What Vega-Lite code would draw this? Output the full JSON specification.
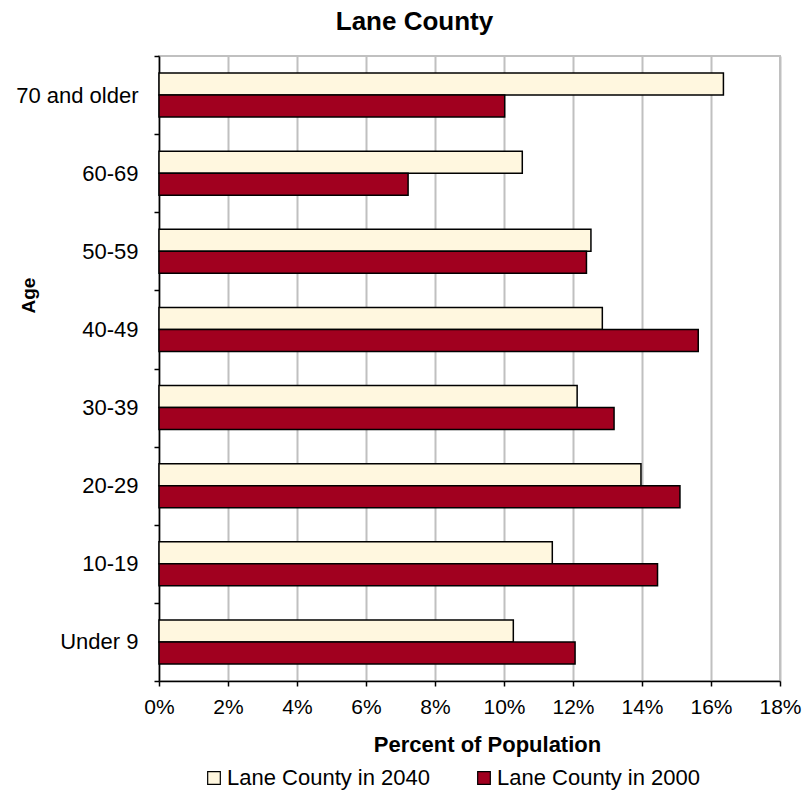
{
  "$schema": "https://vega.github.io/schema/vega-lite/v6.json",
  "width": 621,
  "height": 625,
  "autosize": {"type": "none"},
  "padding": {"left": 159, "top": 56, "right": 23, "bottom": 114},
  "background": "white",
  "config": {
    "font": "Liberation Sans",
    "view": {"stroke": "#c0c0c0", "strokeWidth": 2},
    "axis": {"labelFont": "Liberation Sans", "titleFont": "Liberation Sans"},
    "legend": {"labelFont": "Liberation Sans"}
  },
  "title": {
    "text": "Lane County",
    "fontSize": 26,
    "fontWeight": "bold",
    "font": "Liberation Sans",
    "color": "black",
    "anchor": "middle",
    "offset": 10,
    "dx": -55
  },
  "data": {
    "values": [
      {"age": "70 and older", "series": "Lane County in 2040", "pct": 16.36},
      {"age": "70 and older", "series": "Lane County in 2000", "pct": 10.02},
      {"age": "60-69", "series": "Lane County in 2040", "pct": 10.53},
      {"age": "60-69", "series": "Lane County in 2000", "pct": 7.22},
      {"age": "50-59", "series": "Lane County in 2040", "pct": 12.52},
      {"age": "50-59", "series": "Lane County in 2000", "pct": 12.39},
      {"age": "40-49", "series": "Lane County in 2040", "pct": 12.85},
      {"age": "40-49", "series": "Lane County in 2000", "pct": 15.63},
      {"age": "30-39", "series": "Lane County in 2040", "pct": 12.12},
      {"age": "30-39", "series": "Lane County in 2000", "pct": 13.19},
      {"age": "20-29", "series": "Lane County in 2040", "pct": 13.97},
      {"age": "20-29", "series": "Lane County in 2000", "pct": 15.10},
      {"age": "10-19", "series": "Lane County in 2040", "pct": 11.40},
      {"age": "10-19", "series": "Lane County in 2000", "pct": 14.45},
      {"age": "Under 9", "series": "Lane County in 2040", "pct": 10.27},
      {"age": "Under 9", "series": "Lane County in 2000", "pct": 12.06}
    ]
  },
  "mark": {"type": "bar", "stroke": "black", "strokeWidth": 1.5},
  "encoding": {
    "y": {
      "field": "age",
      "type": "nominal",
      "sort": ["70 and older", "60-69", "50-59", "40-49", "30-39", "20-29", "10-19", "Under 9"],
      "scale": {"paddingInner": 0, "paddingOuter": 0},
      "axis": {
        "title": "Age",
        "titleFontSize": 19,
        "titleFontWeight": "bold",
        "titleColor": "black",
        "titleX": -131,
        "titleY": 239,
        "titleAngle": 270,
        "titleBaseline": "middle",
        "titleAlign": "center",
        "labelFontSize": 22,
        "labelColor": "black",
        "labelPadding": 16,
        "tickBand": "extent",
        "tickColor": "black",
        "tickSize": 5,
        "tickWidth": 1.5,
        "domainColor": "black",
        "domainWidth": 1.5,
        "grid": false
      }
    },
    "yOffset": {
      "field": "series",
      "type": "nominal",
      "sort": ["Lane County in 2040", "Lane County in 2000"],
      "scale": {"paddingInner": 0, "paddingOuter": 0.775}
    },
    "x": {
      "field": "pct",
      "type": "quantitative",
      "scale": {"domain": [0, 18], "nice": false},
      "axis": {
        "values": [0, 2, 4, 6, 8, 10, 12, 14, 16, 18],
        "labelExpr": "datum.value + '%'",
        "title": "Percent of Population",
        "titleFontSize": 22,
        "titleFontWeight": "bold",
        "titleColor": "black",
        "titleX": 328,
        "titleY": 70,
        "titleBaseline": "alphabetic",
        "labelFontSize": 21,
        "labelColor": "black",
        "labelPadding": 10,
        "labelFlush": false,
        "tickColor": "black",
        "tickSize": 5,
        "tickWidth": 1.5,
        "domainColor": "black",
        "domainWidth": 1.5,
        "grid": true,
        "gridColor": "#c0c0c0",
        "gridWidth": 2
      }
    },
    "fill": {
      "field": "series",
      "type": "nominal",
      "sort": ["Lane County in 2040", "Lane County in 2000"],
      "scale": {"range": ["#FFF7DF", "#A1001F"]},
      "legend": {
        "title": null,
        "orient": "none",
        "direction": "horizontal",
        "legendX": 44,
        "legendY": 711,
        "symbolType": "square",
        "symbolSize": 160,
        "symbolStrokeColor": "black",
        "symbolStrokeWidth": 1.2,
        "labelFontSize": 22,
        "labelLimit": 400,
        "labelColor": "black",
        "labelOffset": 2,
        "columnPadding": 42
      }
    }
  }
}
